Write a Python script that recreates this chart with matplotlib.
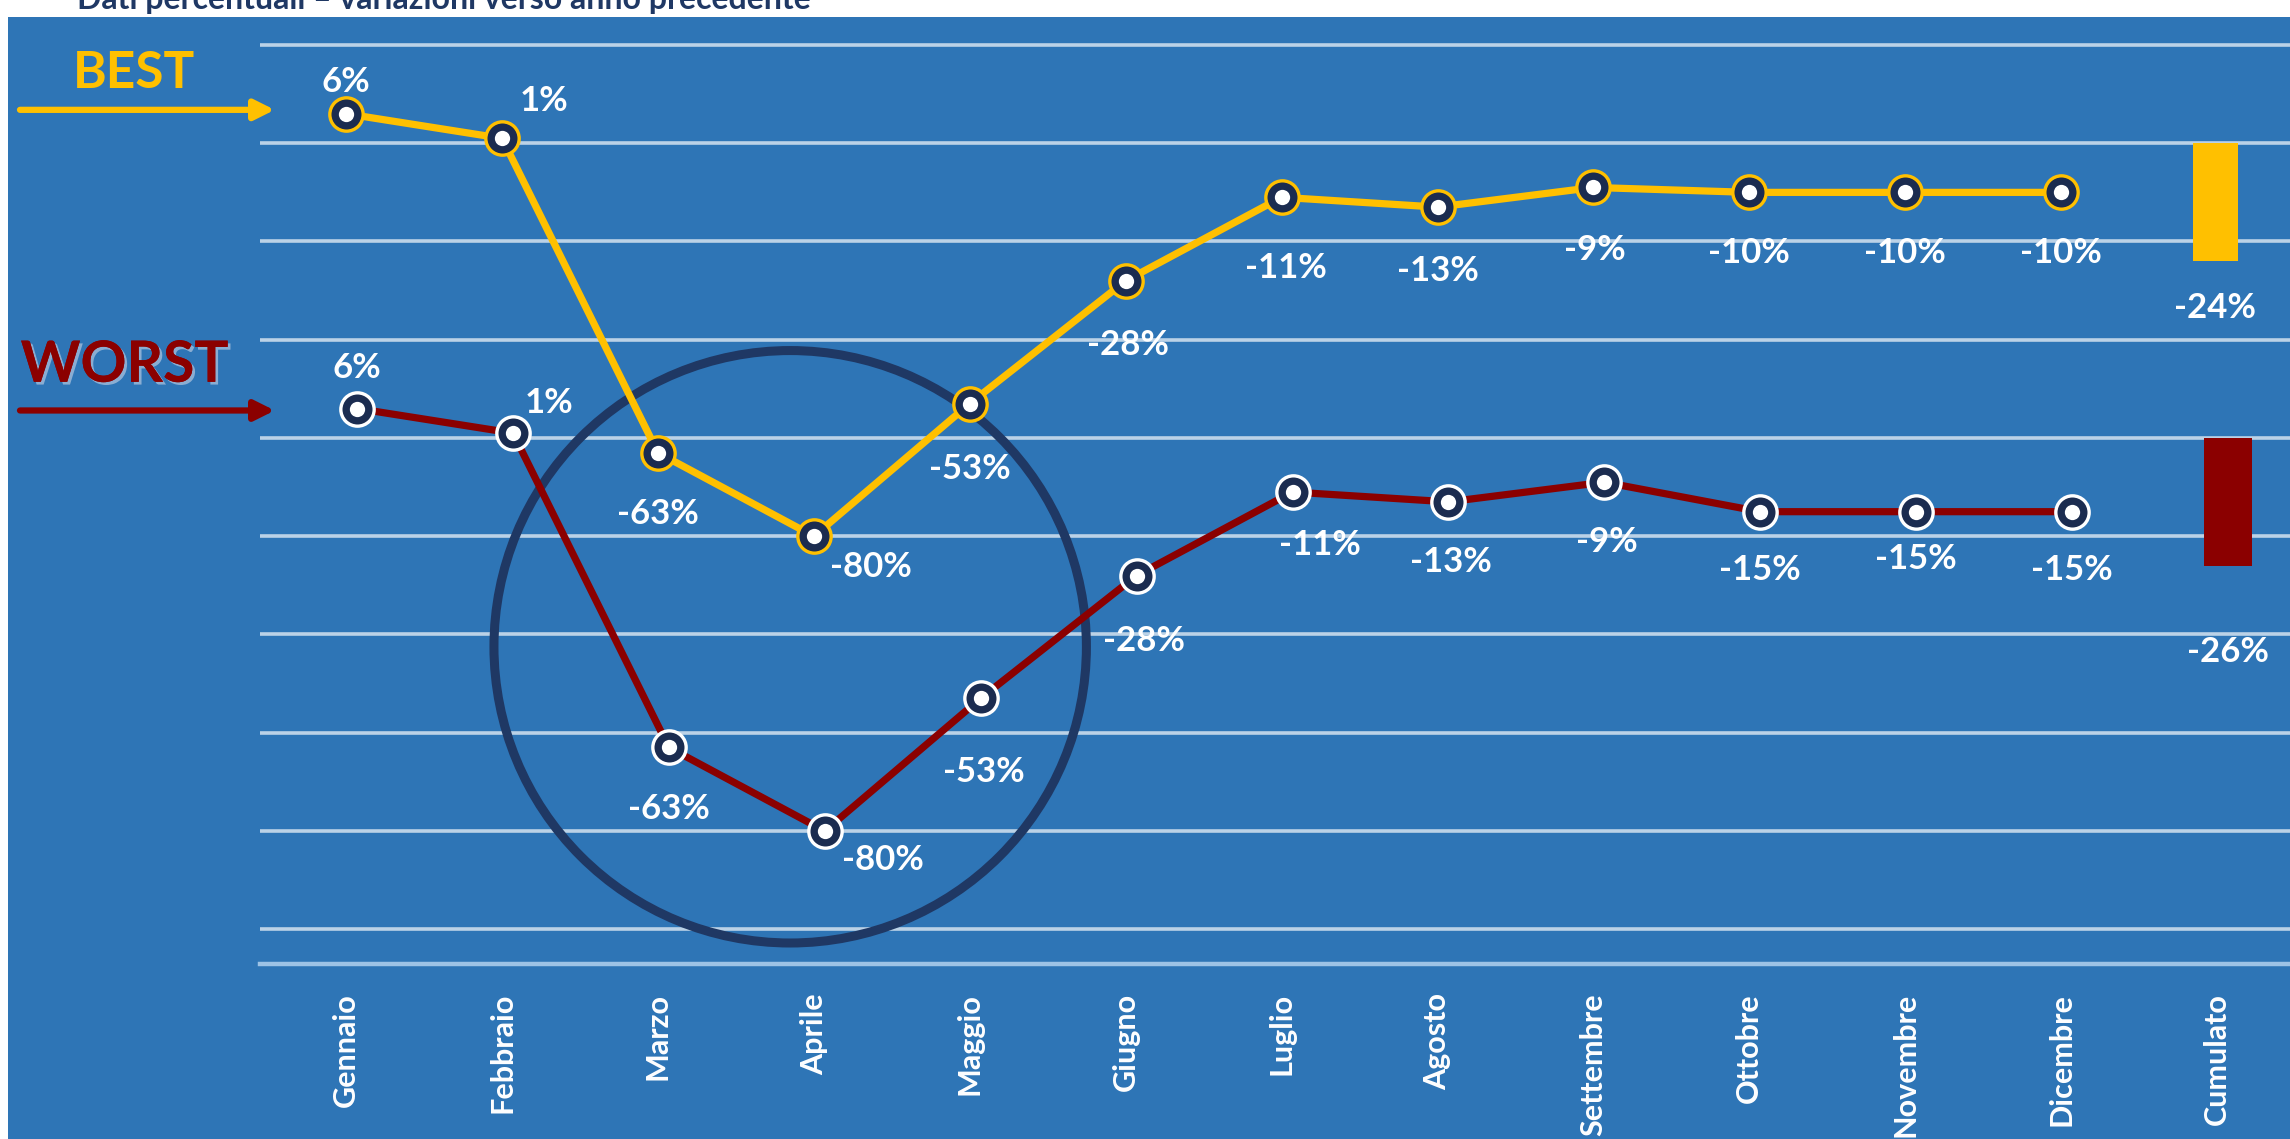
import matplotlib
matplotlib.use("Agg")
import matplotlib.pyplot as plt
import matplotlib.patheffects as pe
from matplotlib.patches import Ellipse
import numpy as np

plt.rcParams["font.family"] = ["Lato", "DejaVu Sans"]

# monthly change vs previous year, two scenarios
months = ["Gennaio", "Febbraio", "Marzo", "Aprile", "Maggio", "Giugno", "Luglio",
          "Agosto", "Settembre", "Ottobre", "Novembre", "Dicembre"]
cum_label = "Cumulato"
best = [6, 1, -63, -80, -53, -28, -11, -13, -9, -10, -10, -10]
worst = [6, 1, -63, -80, -53, -28, -11, -13, -9, -15, -15, -15]
best_cum = -24
worst_cum = -26

# label offsets (points) relative to each marker
best_offs = [(0, 23), (30, 27), (0, -44), (41, -22), (0, -47), (2, -46), (3, -51),
             (0, -46), (1, -45), (0, -44), (0, -44), (0, -44)]
worst_offs = [(0, 29), (26, 22), (0, -44), (42, -21), (2, -53), (5, -47), (20, -38),
              (2, -43), (2, -43), (0, -42), (0, -34), (0, -42)]

BG = "#2E75B6"
GOLD = "#FFC000"
RED = "#8B0000"
NAVY = "#1F3864"
WORST_SHIFT = -60      # worst scenario drawn three grid steps lower
WORST_DX = 0.07

fig = plt.figure(figsize=(22.9, 11.39), dpi=100)
fig.patch.set_facecolor("white")
ax = fig.add_axes([8 / 2290, 0, 1 - 8 / 2290, 1 - 17 / 1139])
ax.set_facecolor(BG)
ax.set_xlim(-2.169, 12.468)
ax.set_ylim(-202.7, 25.7)
ax.set_xticks([])
ax.set_yticks([])
for s in ax.spines.values():
    s.set_visible(False)

# horizontal grid
x0 = -0.553
for g in range(20, -161, -20):
    ax.plot([x0, 12.468], [g, g], color="white", alpha=0.68, lw=2.6, zorder=1,
            solid_capstyle="butt")
ax.plot([x0, 12.468], [-167, -167], color="#9DC3E6", lw=3.2, zorder=1)

xs = np.arange(len(months))
best_y = np.array(best, dtype=float)
worst_y = np.array(worst, dtype=float) + WORST_SHIFT

# highlight ring around the spring drop
ax.add_patch(Ellipse((2.848, -102.5), 3.80, 120.6, fill=False, ec=NAVY, lw=6.5, zorder=2))

ax.plot(xs, best_y, color=GOLD, lw=5.2, zorder=3)
ax.plot(xs + WORST_DX, worst_y, color=RED, lw=5.2, zorder=3)

ax.plot(xs, best_y, "o", ms=24, mfc="#1B2C50", mec=GOLD, mew=2.4, zorder=4)
ax.plot(xs + WORST_DX, worst_y, "o", ms=24, mfc="#1B2C50", mec="white", mew=2.4, zorder=4)
ax.plot(xs, best_y, "o", ms=11, mfc="white", mec="none", zorder=5)
ax.plot(xs + WORST_DX, worst_y, "o", ms=11, mfc="white", mec="none", zorder=5)

ax.bar([12 - 0.01], [best_cum], width=0.29, color=GOLD, zorder=3)
ax.bar([12 + WORST_DX], [worst_cum], bottom=WORST_SHIFT, width=0.31, color=RED, zorder=3)

lbl = dict(color="white", fontsize=25, fontweight="bold", ha="center", va="center",
           textcoords="offset points", zorder=6)
for x, y, v, off in zip(xs, best_y, best, best_offs):
    ax.annotate(f"{v}%", (x, y), xytext=off, **lbl)
for x, y, v, off in zip(xs + WORST_DX, worst_y, worst, worst_offs):
    ax.annotate(f"{v}%", (x, y), xytext=off, **lbl)
ax.annotate(f"{best_cum}%", (12 - 0.01, best_cum), xytext=(0, -34), **lbl)
ax.annotate(f"{worst_cum}%", (12 + WORST_DX, WORST_SHIFT + worst_cum), xytext=(0, -62), **lbl)

# category labels
for i, name in enumerate(months + [cum_label]):
    ax.text(i, -173, name, rotation=90, ha="center", va="top", color="white",
            fontsize=22, fontweight="bold")

# scenario tags with arrows
ax.text(-1.36, 14.3, "BEST", color=GOLD, fontsize=37, fontweight="bold",
        ha="center", va="center")
ax.annotate("", xy=(-0.44, 6.8), xytext=(-2.11, 6.8),
            arrowprops=dict(arrowstyle="-|>", lw=4.5, color=GOLD, mutation_scale=30))
ax.text(-1.42, -45.2, "WORST", color=RED, fontsize=41, fontweight="bold",
        ha="center", va="center",
        path_effects=[pe.withSimplePatchShadow(offset=(2, -2), shadow_rgbFace="#c8d4e6",
                                               alpha=0.6), pe.Normal()])
ax.annotate("", xy=(-0.44, -54.4), xytext=(-2.11, -54.4),
            arrowprops=dict(arrowstyle="-|>", lw=4.5, color=RED, mutation_scale=30))

fig.text(77 / 2290, 1 - 9 / 1139, "Dati percentuali – variazioni verso anno precedente",
         color=NAVY, fontsize=23, fontweight="bold", ha="left", va="baseline")

fig.savefig("out.png", dpi=100, facecolor=fig.get_facecolor())
